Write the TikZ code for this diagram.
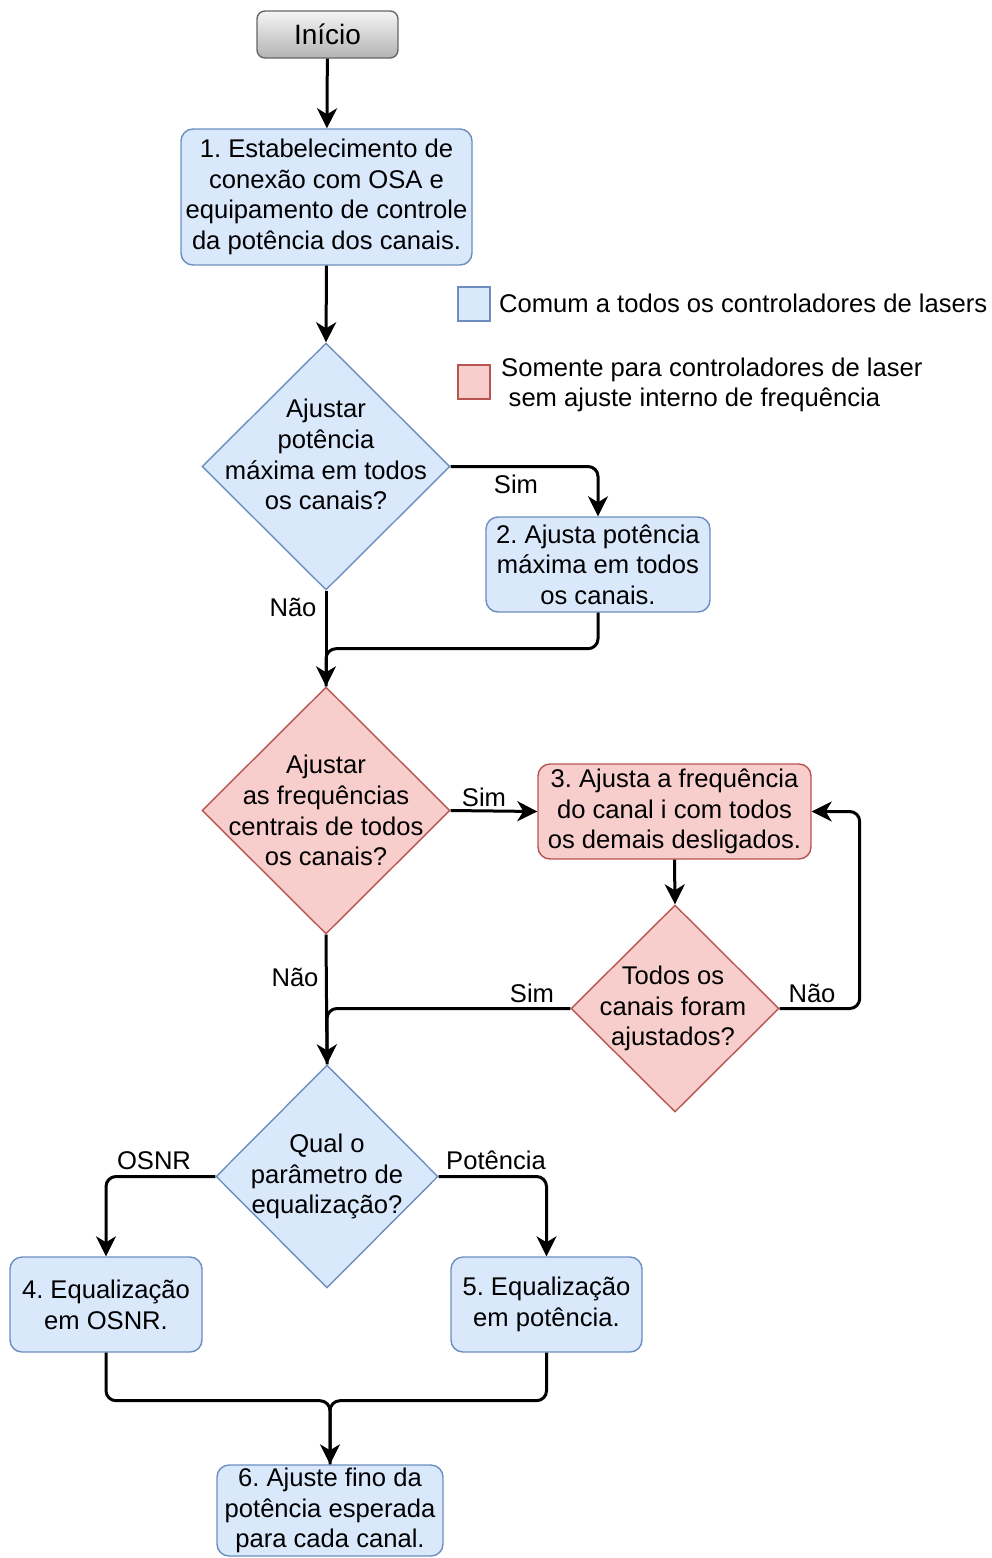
\documentclass[tikz,border=0pt]{standalone}
\usepackage{fontspec}
\setmainfont{Liberation Sans}
\usetikzlibrary{shapes.geometric,arrows.meta}
\frenchspacing

\definecolor{bluefill}{HTML}{DAE8FC}
\definecolor{bluedraw}{HTML}{6C8EBF}
\definecolor{redfill}{HTML}{F8CECC}
\definecolor{reddraw}{HTML}{B85450}
\definecolor{greytop}{HTML}{F5F5F5}
\definecolor{greybot}{HTML}{B3B3B3}
\definecolor{greydraw}{HTML}{666666}

\tikzset{
  txt/.style={font=\fontsize{25.6pt}{30.7pt}\selectfont, align=center, inner sep=0pt},
  procbox/.style={txt, rounded corners=12pt, line width=1.4pt},
  bluebox/.style={procbox, fill=bluefill, draw=bluedraw},
  redbox/.style={procbox, fill=redfill, draw=reddraw},
  decision/.style={diamond, inner sep=0pt, line width=1.4pt},
  bluedec/.style={decision, fill=bluefill, draw=bluedraw},
  reddec/.style={decision, fill=redfill, draw=reddraw},
  startbox/.style={font=\fontsize{28pt}{33pt}\selectfont, inner sep=0pt,
    rounded corners=8pt, line width=1.4pt, draw=greydraw,
    top color=greytop, bottom color=greybot},
  conn/.style={line width=3pt, rounded corners=10pt,
    -{Stealth[length=20pt,width=20pt,inset=6pt]}},
  line/.style={line width=3pt, rounded corners=10pt},
  lbl/.style={txt},
}

\begin{document}
\begin{tikzpicture}[x=1pt,y=-1pt]
\useasboundingbox (0,0) rectangle (992,1558);

% process steps
\node[startbox, minimum width=141pt, minimum height=47pt] (start) at (327.5,34.5) {Início};
\node[bluebox, minimum width=291pt, minimum height=136pt] (b1) at (326.5,197)
  {1. Estabelecimento de\\conexão com OSA e\\equipamento de controle\\da potência dos canais.};
\node[bluebox, minimum width=224pt, minimum height=95pt] (b2) at (598,564.5)
  {2. Ajusta potência\\máxima em todos\\os canais.};
\node[redbox, minimum width=273pt, minimum height=95pt] (b3) at (674.5,811.5)
  {3. Ajusta a frequência\\do canal i com todos\\os demais desligados.};
\node[bluebox, minimum width=192pt, minimum height=95pt] (b4) at (106,1304.5)
  {4. Equalização\\em OSNR.};
\node[bluebox, minimum width=191pt, minimum height=95pt] (b5) at (546.5,1304.5)
  {5. Equalização\\em potência.};
\node[bluebox, minimum width=226pt, minimum height=91pt] (b6) at (330,1510.5)
  {6. Ajuste fino da\\potência esperada\\para cada canal.};

% decisions
\node[bluedec, minimum width=248pt, minimum height=247pt,
  label={[txt, yshift=12pt]center:Ajustar\\potência\\máxima em todos\\os canais?}] (d1) at (326,466.5) {};
\node[reddec, minimum width=248pt, minimum height=247pt,
  label={[txt]center:Ajustar\\as frequências\\centrais de todos\\os canais?}] (d2) at (326,810.5) {};
\node[reddec, minimum width=208pt, minimum height=207pt,
  label={[txt, xshift=-2pt]center:Todos os\\canais foram\\ajustados?}] (d3) at (675,1008.5) {};
\node[bluedec, minimum width=222pt, minimum height=223pt,
  label={[txt]center:Qual o\\parâmetro de\\equalização?}] (d4) at (327,1176.5) {};

% legend
\node[fill=bluefill, draw=bluedraw, line width=1.4pt, minimum width=32pt, minimum height=34pt, inner sep=0pt] (leg1) at (474,304) {};
\node[txt, anchor=west] (leg1t) at (499,303) {Comum a todos os controladores de lasers};
\node[fill=redfill, draw=reddraw, line width=1.4pt, minimum width=32pt, minimum height=34pt, inner sep=0pt] (leg2) at (474,382) {};
\node[txt, align=left, anchor=west] (leg2t) at (501,385)
  {Somente para controladores de laser\\\hspace*{7.5pt}sem ajuste interno de frequência};

% connectors
\draw[conn] (start) -- (b1);
\draw[conn] (b1.south) -- (d1.north);
\draw[conn] (d1.east) -| (b2.north);
\draw[line] (b2.south) -- ++(0,36) -| (d2.north);
\draw[conn] (d1.south) -- (d2.north);
\draw[conn] (d2.east) -- (b3.west);
\draw[conn] (b3.south) -- (d3.north);
\draw[conn] (d3.east) -- ++(80,0) |- (b3.east);
\draw[line] (d3.west) -| (d4.north);
\draw[conn] (d2.south) -- (d4.north);
\draw[conn] (d4.west) -| (b4.north);
\draw[conn] (d4.east) -| (b5.north);
\draw[line] (b4.south) -- ++(0,48) -| (b6.north);
\draw[conn] (b5.south) -- ++(0,48) -| (b6.north);

% connector labels
\node[lbl] (l1) at (516,484) {Sim};
\node[lbl] (l2) at (293,607) {Não};
\node[lbl] (l3) at (484,797) {Sim};
\node[lbl] (l4) at (295,977) {Não};
\node[lbl] (l5) at (532,993) {Sim};
\node[lbl] (l6) at (812,993) {Não};
\node[lbl] (l7) at (154,1161) {OSNR};
\node[lbl] (l8) at (496,1160) {Potência};
\end{tikzpicture}
\end{document}
